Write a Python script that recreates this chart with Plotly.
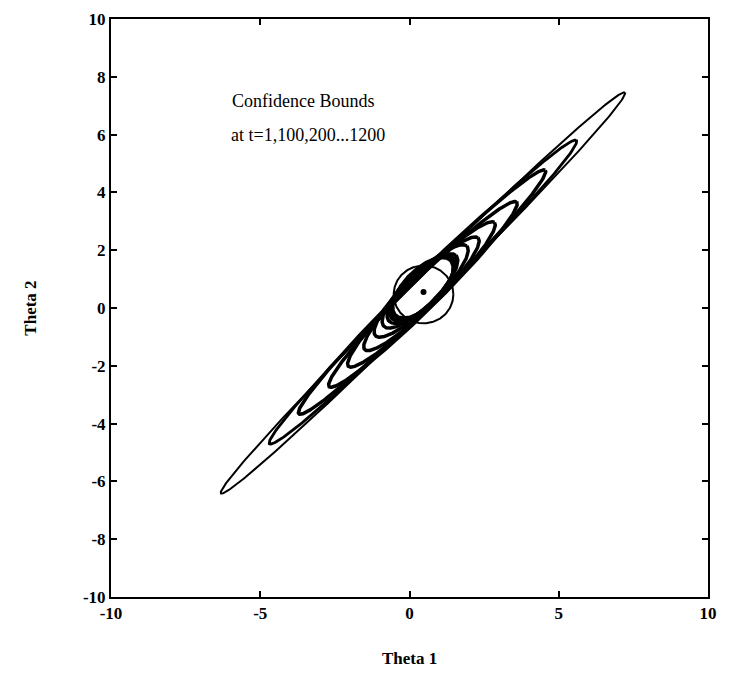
import numpy as np
import plotly.graph_objects as go

# Confidence-bound ellipses (t = 1, 100, 200 ... 1200)
t_values = [1, 100, 200, 300, 400, 500, 600, 700, 800, 900, 1000, 1100, 1200]
center_x = [0.47, 0.45, 0.45, 0.42, 0.45, 0.40, 0.40, 0.39, 0.35, 0.40, 0.42, 0.44, 0.45]
center_y = [0.47, 0.52, 0.55, 0.55, 0.47, 0.47, 0.49, 0.59, 0.59, 0.65, 0.67, 0.68, 0.70]
half_len = [1.00, 9.69, 7.35, 5.90, 4.48, 3.49, 2.71, 2.18, 1.72, 1.55, 1.45, 1.38, 1.32]
half_wid = [1.00, 0.45, 0.48, 0.50, 0.50, 0.52, 0.52, 0.55, 0.55, 0.57, 0.58, 0.60, 0.62]
angle_deg = [0.0, 45.7, 45.6, 45.6, 45.5, 45.5, 45.5, 45.5, 45.5, 46.0, 46.0, 46.5, 46.5]
line_w = [2.0, 2.0, 2.8, 3.5, 3.5, 3.5, 3.5, 3.5, 3.5, 3.5, 3.5, 3.5, 3.5]

# estimate point
est_x = [0.47]
est_y = [0.55]

x_ticks = [-10, -5, 0, 5, 10]
y_ticks = [-10, -8, -6, -4, -2, 0, 2, 4, 6, 8, 10]

fig = go.Figure()
s = np.linspace(0, 2 * np.pi, 400)
for t, cx, cy, a, b, ang, lw in zip(t_values, center_x, center_y, half_len, half_wid, angle_deg, line_w):
    th = np.deg2rad(ang)
    u = a * np.cos(s)
    v = b * np.sin(s)
    xs = cx + u * np.cos(th) - v * np.sin(th)
    ys = cy + u * np.sin(th) + v * np.cos(th)
    fig.add_trace(go.Scatter(x=xs, y=ys, mode="lines", name=f"t={t}",
                             line=dict(color="black", width=lw), showlegend=False,
                             hoverinfo="skip"))

fig.add_trace(go.Scatter(x=est_x, y=est_y, mode="markers",
                         marker=dict(color="black", size=6), showlegend=False))

ann_font = dict(family="Liberation Serif", size=18, color="black")
fig.add_annotation(x=-6.0, y=7.17, xref="x", yref="y", text="Confidence Bounds",
                   showarrow=False, xanchor="left", yanchor="middle", font=ann_font)
fig.add_annotation(x=-6.05, y=6.0, xref="x", yref="y", text="at t=1,100,200...1200",
                   showarrow=False, xanchor="left", yanchor="middle", font=ann_font)

tick_font = dict(family="Liberation Serif", size=17, color="black", weight="bold")
title_font = dict(family="Liberation Serif", size=17, color="black", weight="bold")
fig.update_xaxes(range=[-10, 10], tickvals=x_ticks, ticktext=[str(v) for v in x_ticks],
                 showgrid=False, zeroline=False, showline=True, linecolor="black",
                 linewidth=2, mirror="ticks", ticks="inside", ticklen=6, tickwidth=1.5,
                 tickcolor="black", tickfont=tick_font, automargin=False,
                 ticklabeloverflow="allow",
                 title=dict(text="Theta 1", font=title_font, standoff=30))
fig.update_yaxes(range=[-10, 10], tickvals=y_ticks, ticktext=[str(v) for v in y_ticks],
                 showgrid=False, zeroline=False, showline=True, linecolor="black",
                 linewidth=2, mirror="ticks", ticks="inside", ticklen=6, tickwidth=1.5,
                 tickcolor="black", tickfont=tick_font, automargin=False,
                 ticklabeloverflow="allow",
                 title=dict(text="Theta 2", font=title_font, standoff=42))

fig.update_layout(width=730, height=680, plot_bgcolor="white", paper_bgcolor="white",
                  margin=dict(l=103, r=30, t=11, b=91, autoexpand=False),
                  font=dict(family="Liberation Serif", color="black"))

fig.write_html("out.html")
